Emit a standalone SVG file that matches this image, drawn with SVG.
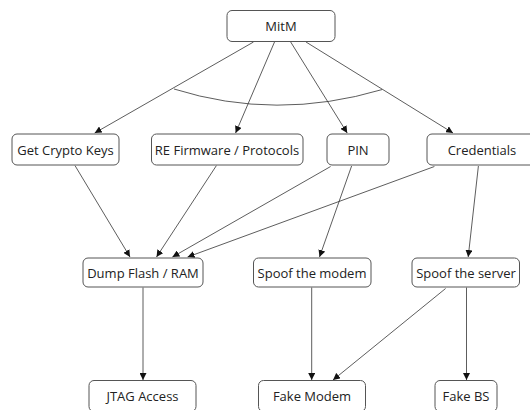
<svg xmlns="http://www.w3.org/2000/svg" width="530" height="410" viewBox="0 0 530 410">
<style>
.box{fill:#fff;stroke:#555;stroke-width:1}
.lbl{font-family:"Open Sans","Noto Sans",sans-serif;font-size:13px;fill:#222;text-anchor:middle;dominant-baseline:central}
.edge{stroke:#333;stroke-width:0.8;fill:none;marker-end:url(#ah)}
.arc{stroke:#333;stroke-width:0.8;fill:none}
</style>
<defs>
<marker id="ah" viewBox="0 0 10 10" refX="10" refY="5" markerWidth="7" markerHeight="7" markerUnits="userSpaceOnUse" orient="auto">
<path d="M0,0 L10,5 L0,10 z" fill="#111"/>
</marker>
</defs>
<rect width="530" height="410" fill="#fff"/>
<g id="connectors">
<path class="edge" d="M253.5,42 L94.7,133"/>
<path class="edge" d="M274.5,42 L235.6,133"/>
<path class="edge" d="M290.7,42 L347.2,133"/>
<path class="edge" d="M306,42 L453,133"/>
<path class="arc" d="M174,89 Q276,121 382,89.6"/>
<path class="edge" d="M75,165.6 L130,257"/>
<path class="edge" d="M216.4,165.6 L156.5,257"/>
<path class="edge" d="M330.6,166.5 L172.4,257"/>
<path class="edge" d="M351.6,166 L319.5,257"/>
<path class="edge" d="M434.4,166.5 L187.6,257"/>
<path class="edge" d="M478.4,166 L468.2,257"/>
<path class="edge" d="M143,287.5 L143,380"/>
<path class="edge" d="M311.7,287.5 L311.7,380"/>
<path class="edge" d="M445.6,288.5 L333,380"/>
<path class="edge" d="M466.5,287.5 L466.5,380"/>
</g>
<g id="mitm"><rect class="box" x="227" y="10.5" width="108" height="31" rx="5"/><text class="lbl" x="281" y="26">MitM</text></g>
<g id="crypto"><rect class="box" x="12" y="134" width="107" height="31" rx="5"/><text class="lbl" x="65.5" y="149.5">Get Crypto Keys</text></g>
<g id="refw"><rect class="box" x="151.5" y="134" width="151.5" height="31" rx="5"/><text class="lbl" x="227" y="149.5">RE Firmware / Protocols</text></g>
<g id="pin"><rect class="box" x="327" y="134" width="62" height="31" rx="5"/><text class="lbl" x="358" y="149.5">PIN</text></g>
<g id="cred"><rect class="box" x="427" y="134" width="110" height="31" rx="5"/><text class="lbl" x="482" y="149.5">Credentials</text></g>
<g id="dump"><rect class="box" x="83" y="258" width="120" height="29" rx="5"/><text class="lbl" x="143" y="272.5">Dump Flash / RAM</text></g>
<g id="spoofmodem"><rect class="box" x="253.5" y="258" width="117.5" height="29" rx="5"/><text class="lbl" x="312" y="272.5">Spoof the modem</text></g>
<g id="spoofserver"><rect class="box" x="412" y="258" width="107.5" height="29" rx="5"/><text class="lbl" x="466" y="272.5">Spoof the server</text></g>
<g id="jtag"><rect class="box" x="89" y="380.5" width="107" height="31" rx="5"/><text class="lbl" x="142.5" y="396">JTAG Access</text></g>
<g id="fakemodem"><rect class="box" x="258.5" y="380.5" width="107" height="31" rx="5"/><text class="lbl" x="312" y="396">Fake Modem</text></g>
<g id="fakebs"><rect class="box" x="435" y="380.5" width="62" height="31" rx="5"/><text class="lbl" x="466" y="396">Fake BS</text></g>
</svg>
